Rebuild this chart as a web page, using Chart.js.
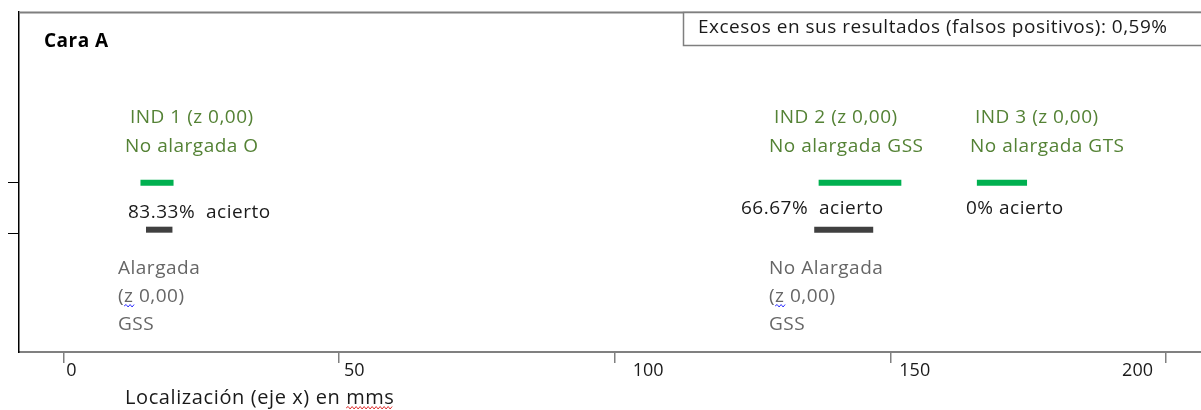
<!DOCTYPE html>
<html><head><meta charset="utf-8">
<script src="https://cdn.jsdelivr.net/npm/chart.js@4.4.1/dist/chart.umd.min.js"></script>
<style>html,body{margin:0;padding:0;background:#fff;}#wrap{width:1201px;height:410px;position:relative;}</style>
</head><body><div id="wrap"><canvas id="c" width="1201" height="410"></canvas></div>
<script>
// ---- data ----
const xTicks = [0, 50, 100, 150, 200];
const rowTicks = [1, 2];
const panelTitle = 'Cara A';
const excessText = 'Excesos en sus resultados (falsos positivos): 0,59%';
const axisTitle = 'Localización (eje x) en mms';
const indicatorNames = ['IND 1 (z 0,00)', 'IND 2 (z 0,00)', 'IND 3 (z 0,00)'];
const indicatorTypes = ['No alargada O', 'No alargada GSS', 'No alargada GTS'];
const indicatorStart = [14, 137, 165.7];
const indicatorEnd = [20, 152, 174.8];
const indicatorRow = 2;
const hitLabels = ['83.33%  acierto', '66.67%  acierto', '0% acierto'];
const detectedStart = [15, 136.2];
const detectedEnd = [19.8, 146.9];
const detectedRow = 1.084;
const detectedLabels = [['Alargada', '(z 0,00)', 'GSS'], ['No Alargada', '(z 0,00)', 'GSS']];

const FONT = '"Open Sans", Lato, sans-serif';
const GREEN_TXT = '#548235', GRAY_TXT = '#666666', BLACK_TXT = '#1a1a1a';

const datasets = [];
indicatorStart.forEach((s, i) => datasets.push({
  label: indicatorNames[i],
  data: [{x: s, y: indicatorRow}, {x: indicatorEnd[i], y: indicatorRow}],
  borderColor: '#00b050', borderWidth: 6, borderCapStyle: 'butt', pointRadius: 0, showLine: true
}));
detectedStart.forEach((s, i) => datasets.push({
  label: detectedLabels[i].join(' '),
  data: [{x: s, y: detectedRow}, {x: detectedEnd[i], y: detectedRow}],
  borderColor: '#404040', borderWidth: 6, borderCapStyle: 'butt', pointRadius: 0, showLine: true
}));

function squiggle(ctx, x0, x1, y, color) {
  ctx.save(); ctx.strokeStyle = color; ctx.lineWidth = 1; ctx.beginPath();
  let up = true; ctx.moveTo(x0, y);
  for (let x = x0 + 2; x <= x1; x += 2) { ctx.lineTo(x, up ? y - 1.5 : y + 1); up = !up; }
  ctx.stroke(); ctx.restore();
}

const annotations = {
  id: 'annotations',
  afterDraw(chart) {
    const ctx = chart.ctx, ca = chart.chartArea, xs = chart.scales.x;
    ctx.save();
    // frame top line
    ctx.strokeStyle = '#7f7f7f'; ctx.lineWidth = 2;
    ctx.beginPath(); ctx.moveTo(ca.left, ca.top + 0.5); ctx.lineTo(ca.right, ca.top + 0.5); ctx.stroke();
    // excess box
    ctx.fillStyle = '#fff'; ctx.fillRect(683, ca.top, 600, 33);
    ctx.lineWidth = 1.5; ctx.strokeStyle = '#7f7f7f'; ctx.strokeRect(683.5, ca.top + 0.5, 600, 33);

    const txt = (s, x, y, color, font, align, spacing) => {
      ctx.font = font; ctx.fillStyle = color; ctx.textAlign = align || 'left'; ctx.textBaseline = 'middle';
      ctx.letterSpacing = (spacing || 0) + 'px';
      ctx.fillText(s, x, y);
      const w = ctx.measureText(s).width;
      ctx.letterSpacing = '0px';
      return w;
    };
    const body = '19px ' + FONT, SP = 0.5;
    txt(excessText, 698, 28, BLACK_TXT, body, 'left', SP);
    txt(panelTitle, 44, 42, '#000', 'bold 19px ' + FONT, 'left', 0.5);

    const indX = [130, 774, 975], typX = [125, 769, 970];
    indicatorNames.forEach((s, i) => {
      txt(s, indX[i], 118, GREEN_TXT, body, 'left', SP);
      txt(indicatorTypes[i], typX[i], 147, GREEN_TXT, body, 'left', SP);
    });
    const hitX = [128, 741, 966], hitY = [213, 209, 209];
    hitLabels.forEach((s, i) => txt(s, hitX[i], hitY[i], BLACK_TXT, body, 'left', SP));

    const detX = [118, 769];
    detectedLabels.forEach((lines, i) => {
      lines.forEach((s, j) => txt(s, detX[i], 269 + j * 28, GRAY_TXT, body, 'left', SP));
      ctx.font = body;
      const zx = detX[i] + ctx.measureText('(').width + SP;
      squiggle(ctx, zx, zx + ctx.measureText('z').width + 2, 306, '#3333ff');
    });

    // x tick labels
    const shift = [3, 5, 18, 9, -13];
    xs.ticks.forEach((t, i) => {
      const px = xs.getPixelForValue(t.value);
      const last = i === xs.ticks.length - 1;
      txt(String(t.value), px + shift[i], 371, BLACK_TXT, '18px ' + FONT, last ? 'right' : 'left', 0);
    });
    // axis title
    const tf = '20px ' + FONT;
    const wAll = txt(axisTitle, 125, 398, BLACK_TXT, tf, 'left', 0.6);
    ctx.font = tf; ctx.letterSpacing = '0.6px';
    const wM = ctx.measureText('mms').width; ctx.letterSpacing = '0px';
    squiggle(ctx, 125 + wAll - wM, 125 + wAll - 1, 408, '#e03030');
    ctx.restore();
  }
};

new Chart(document.getElementById('c'), {
  type: 'scatter',
  data: { datasets },
  options: {
    responsive: false, animation: false,
    layout: { padding: { top: 12, left: 0, right: 0, bottom: 0 } },
    plugins: { legend: { display: false }, tooltip: { enabled: false } },
    scales: {
      x: {
        type: 'linear', position: 'bottom', min: -8.03, max: 206.35,
        afterBuildTicks: s => { s.ticks = xTicks.map(v => ({ value: v })); },
        afterFit: s => { s.height = 58; },
        ticks: { display: false },
        grid: { drawOnChartArea: false, drawTicks: true, tickLength: 11, color: '#808080', lineWidth: 1.5 },
        border: { display: true, color: '#808080', width: 2 }
      },
      y: {
        type: 'linear', position: 'left', min: -1.30, max: 5.327,
        afterBuildTicks: s => { s.ticks = rowTicks.map(v => ({ value: v })); },
        afterFit: s => { s.width = 19; },
        ticks: { display: false },
        grid: { drawOnChartArea: false, drawTicks: true, tickLength: 11, color: '#000', lineWidth: 1 },
        border: { display: true, color: '#000', width: 1.5 }
      }
    }
  },
  plugins: [annotations]
});
</script>
</body></html>
